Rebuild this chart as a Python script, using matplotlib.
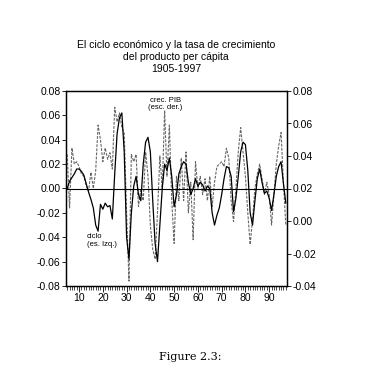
import matplotlib
matplotlib.use("Agg")
import matplotlib.pyplot as plt
import numpy as np

# years 1905-1997, labelled by the last two digits
years = np.arange(5, 98)

# ciclo economico (left scale, solid)
ciclo = [
    0.000, 0.006, 0.009, 0.012, 0.016, 0.016, 0.014, 0.011, 0.004, -0.003,   # 05-14
    -0.009, -0.016, -0.030, -0.035, -0.013, -0.017, -0.012, -0.015, -0.014, -0.025,  # 15-24
    0.012, 0.045, 0.058, 0.062, 0.030, -0.040, -0.058, -0.020, 0.002, 0.010,  # 25-34
    -0.005, -0.010, 0.020, 0.038, 0.042, 0.030, -0.010, -0.045, -0.060, -0.030,  # 35-44
    0.000, 0.020, 0.015, 0.025, 0.010, -0.015, -0.005, 0.012, 0.018, 0.022,  # 45-54
    0.020, 0.005, -0.005, 0.000, 0.008, 0.002, 0.005, 0.003, -0.002, 0.002,  # 55-64
    0.000, -0.020, -0.030, -0.022, -0.016, -0.005, 0.008, 0.018, 0.017, 0.010,  # 65-74
    -0.019, -0.008, 0.010, 0.030, 0.038, 0.036, 0.015, -0.020, -0.030, -0.010,  # 75-84
    0.008, 0.016, 0.005, -0.004, -0.002, -0.008, -0.018, -0.005, 0.010, 0.018,  # 85-94
    0.022, 0.004, -0.012,  # 95-97
]

# crecimiento del PIB per capita (right scale, dashed)
crec_pib = [
    0.041, 0.008, 0.045, 0.035, 0.0365, 0.0335, 0.029, 0.0275, 0.0215, 0.0185,  # 05-14
    0.030, 0.020, 0.031, 0.059, 0.050, 0.0365, 0.045, 0.038, 0.042, 0.032,  # 15-24
    0.070, 0.061, 0.0665, 0.0575, 0.054, 0.005, -0.037, 0.041, 0.0365, 0.041,  # 25-34
    0.009, 0.020, 0.0125, 0.0425, 0.0275, -0.0025, -0.0175, -0.0235, 0.005, 0.040,  # 35-44
    0.020, 0.068, 0.0275, 0.059, 0.0125, -0.0138, 0.0275, 0.0125, 0.0388, 0.0125,  # 45-54
    0.0425, 0.005, 0.0238, -0.0115, 0.0365, 0.020, 0.0275, 0.0163, 0.026, 0.0125,  # 55-64
    0.0275, 0.0088, 0.0238, 0.0335, 0.035, 0.0365, 0.0335, 0.0448, 0.0388, 0.0125,  # 65-74
    -0.0003, 0.020, 0.0425, 0.0575, 0.0425, 0.0275, 0.005, -0.0145, 0.0013, 0.020,  # 75-84
    0.029, 0.035, 0.026, 0.0163, 0.0238, 0.0163, -0.0025, 0.0163, 0.035, 0.0463,  # 85-94
    0.0545, 0.0238, -0.0025,  # 95-97
]

plt.rcParams['font.family'] = ['Liberation Sans', 'DejaVu Sans']

fig = plt.figure(figsize=(3.86, 3.70), dpi=100)
ax = fig.add_axes([66 / 386, 1 - 286 / 370, 221 / 386, 195 / 370])
ax2 = ax.twinx()

ax.plot(years, ciclo, color='black', lw=0.9, zorder=3)
ax2.plot(years, crec_pib, color='#666666', lw=0.8, ls=(0, (2.5, 1.2)))
ax.axhline(0, color='black', lw=0.8)

ax.set_xlim(4.5, 97.5)
ax.set_ylim(-0.08, 0.08)
ax2.set_ylim(-0.04, 0.08)
ax.set_yticks(np.arange(-0.08, 0.081, 0.02))
ax2.set_yticks(np.arange(-0.04, 0.081, 0.02))
ax.set_yticklabels(['%.2f' % v for v in np.arange(-0.08, 0.081, 0.02)])
ax2.set_yticklabels(['%.2f' % v for v in np.arange(-0.04, 0.081, 0.02)])
ax.set_xticks(np.arange(10, 91, 10))
ax.set_xticks(years, minor=True)

ax.tick_params(axis='y', labelsize=7.5, length=3, width=0.6, pad=1)
ax2.tick_params(axis='y', labelsize=7.5, length=3, width=0.6, pad=1)
ax.tick_params(axis='x', which='major', labelsize=7.5, length=4, width=0.6, pad=1)
ax.tick_params(axis='x', which='minor', length=3, width=0.5)
ax.set_zorder(ax2.get_zorder() + 1)
ax.patch.set_visible(False)

for a in (ax, ax2):
    for s in a.spines.values():
        s.set_linewidth(0.9)

ax.text(46.3, 0.0695, 'crec. PIB\n(esc. der.)', fontsize=5.5, ha='center', va='center',
        linespacing=1.1)
ax.text(13.3, -0.0425, 'ciclo\n(es. Izq.)', fontsize=5.5, ha='left', va='center',
        linespacing=1.1)

fig.text(176 / 386, 1 - 57 / 370,
         'El ciclo económico y la tasa de crecimiento\ndel producto per cápita\n1905-1997',
         ha='center', va='center', fontsize=7.5, linespacing=1.25)
fig.text(190 / 386, 1 - 357 / 370, 'Figure 2.3:', ha='center', va='center',
         fontsize=8, family=['DejaVu Serif'])

fig.savefig('out.png', dpi=100)
